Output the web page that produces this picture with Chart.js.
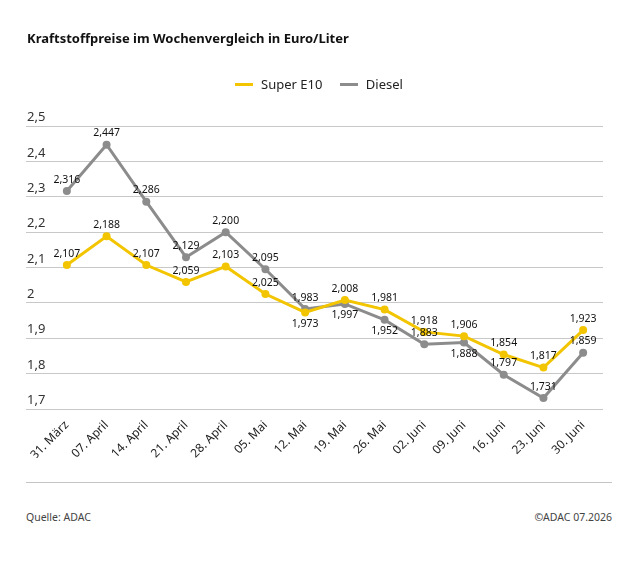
<!DOCTYPE html>
<html>
<head>
<meta charset="utf-8">
<script src="https://cdn.jsdelivr.net/npm/chart.js@4/dist/chart.umd.min.js"></script>
<style>
  body { margin: 0; background: #fff; font-family: "Noto Sans", sans-serif; color: #222; }
  #wrap { position: relative; width: 638px; height: 577px; }
  #title { position: absolute; left: 27px; top: 29px; font-size: 13px; font-weight: bold; color: #111; }
  #legend { position: absolute; left: 0; width: 638px; top: 75px; text-align: center; font-size: 13px; color: #222; }
  #legend span.item { margin: 0 7px; }
  #legend i { display: inline-block; width: 18px; height: 3px; vertical-align: middle; margin-right: 8px; position: relative; top: -1px; }
  #box { position: absolute; left: 0; top: 0; width: 638px; height: 458px; }
  #sep { position: absolute; left: 26px; top: 482px; width: 586px; height: 0; border-top: 1.5px solid #c4c4c4; }
  .foot { position: absolute; top: 510px; font-size: 10.5px; color: #444; }
</style>
</head>
<body>
<div id="wrap">
  <div id="box"><canvas id="priceChart"></canvas></div>
  <div id="title">Kraftstoffpreise im Wochenvergleich in Euro/Liter</div>
  <div id="legend">
    <span class="item"><i style="background:#f2c500"></i>Super E10</span>
    <span class="item"><i style="background:#8c8c8c"></i>Diesel</span>
  </div>
  <div id="sep"></div>
  <div class="foot" style="left:26px">Quelle: ADAC</div>
  <div class="foot" style="right:26px">©ADAC 07.2026</div>
</div>
<script>
const weeks = ["31. März", "07. April", "14. April", "21. April", "28. April", "05. Mai", "12. Mai",
  "19. Mai", "26. Mai", "02. Juni", "09. Juni", "16. Juni", "23. Juni", "30. Juni"];
const superE10 = [2.107, 2.188, 2.107, 2.059, 2.103, 2.025, 1.973, 2.008, 1.981, 1.918, 1.906, 1.854, 1.817, 1.923];
const diesel = [2.316, 2.447, 2.286, 2.129, 2.200, 2.095, 1.983, 1.997, 1.952, 1.883, 1.888, 1.797, 1.731, 1.859];
const yTicks = [1.7, 1.8, 1.9, 2, 2.1, 2.2, 2.3, 2.4, 2.5];

// which labels sit below the point instead of above
const belowLabels = { 0: [6], 1: [7, 8, 10] };

const fmt = v => String(v).replace(".", ",");

const labelPlugin = {
  id: "valueLabels",
  afterDatasetsDraw(chart) {
    const ctx = chart.ctx;
    ctx.save();
    ctx.font = "10.5px 'Noto Sans'";
    ctx.fillStyle = "#111";
    ctx.textAlign = "center";
    chart.data.datasets.forEach((ds, di) => {
      const meta = chart.getDatasetMeta(di);
      meta.data.forEach((pt, i) => {
        const below = (belowLabels[di] || []).includes(i);
        const txt = ds.data[i].toFixed(3).replace(".", ",");
        if (below) {
          ctx.textBaseline = "top";
          ctx.fillText(txt, pt.x, pt.y + 6);
        } else {
          ctx.textBaseline = "bottom";
          ctx.fillText(txt, pt.x, pt.y - 6);
        }
      });
    });
    ctx.restore();
  }
};

const yLabelPlugin = {
  id: "yLabels",
  afterDraw(chart) {
    const ctx = chart.ctx;
    const y = chart.scales.y;
    ctx.save();
    ctx.font = "13px 'Noto Sans'";
    ctx.fillStyle = "#333";
    ctx.textAlign = "left";
    ctx.textBaseline = "bottom";
    yTicks.forEach(t => {
      ctx.fillText(fmt(t), 27, y.getPixelForValue(t) - 2);
    });
    ctx.restore();
  }
};

new Chart(document.getElementById("priceChart"), {
  type: "line",
  data: {
    labels: weeks,
    datasets: [
      {
        label: "Super E10",
        data: superE10,
        borderColor: "#f2c500",
        backgroundColor: "#f2c500",
        borderWidth: 3,
        pointRadius: 4,
        pointBorderWidth: 0,
        tension: 0
      },
      {
        label: "Diesel",
        data: diesel,
        borderColor: "#8c8c8c",
        backgroundColor: "#8c8c8c",
        borderWidth: 3,
        pointRadius: 4,
        pointBorderWidth: 0,
        tension: 0
      }
    ]
  },
  options: {
    responsive: true,
    maintainAspectRatio: false,
    animation: false,
    layout: { padding: { top: 126, left: 26, right: 35, bottom: 0 } },
    plugins: {
      legend: { display: false },
      tooltip: { enabled: false }
    },
    scales: {
      x: {
        offset: true,
        grid: { display: false },
        border: { display: false },
        ticks: {
          maxRotation: 45,
          minRotation: 45,
          padding: 1,
          color: "#222",
          font: { family: "Noto Sans", size: 12 }
        },
        afterFit(scale) { scale.height = 49; }
      },
      y: {
        min: 1.7,
        max: 2.5,
        afterBuildTicks(scale) { scale.ticks = yTicks.map(v => ({ value: v })); },
        grid: { color: "#c8c8c8", lineWidth: 1, drawTicks: true, tickLength: 21 },
        border: { display: false },
        ticks: { display: false }
      }
    }
  },
  plugins: [labelPlugin, yLabelPlugin]
});
</script>
</body>
</html>
